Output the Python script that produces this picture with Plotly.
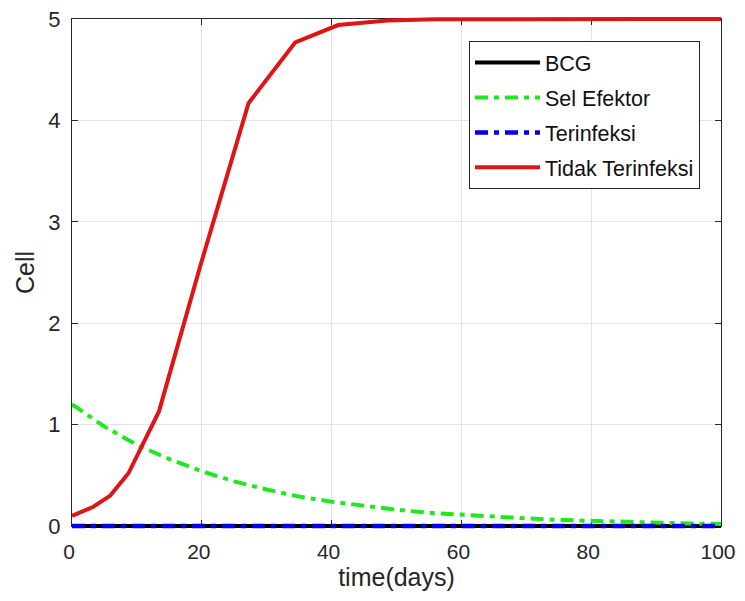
import plotly.graph_objects as go

# Data
t_red = [0, 3.3, 5.9, 8.7, 13.4, 19.7, 27.2, 34.4, 41.0, 48.6, 56, 64, 72, 80, 88, 100]
tidak_terinfeksi = [0.1, 0.19, 0.3, 0.52, 1.13, 2.55, 4.17, 4.77, 4.94, 4.985, 4.997, 5.0, 5.0, 5.0, 5.0, 5.0]

t_green = [0, 5, 10, 15, 20, 25, 30, 35, 40, 45, 50, 55, 60, 65, 70, 75, 80, 85, 90, 95, 100]
sel_efektor = [1.2, 0.98, 0.8, 0.66, 0.54, 0.44, 0.36, 0.29, 0.24, 0.2, 0.16, 0.13, 0.11,
               0.09, 0.075, 0.06, 0.05, 0.04, 0.03, 0.025, 0.02]

t_flat = [0, 100]
bcg = [0, 0]
terinfeksi = [0, 0]

x_ticks = [0, 20, 40, 60, 80, 100]
y_ticks = [0, 1, 2, 3, 4, 5]
x_range = [0, 100]
y_range = [0, 5]

FONT = "Liberation Sans, Arial, sans-serif"
AX = "#262626"

# Figure geometry (the page body adds an 8px offset on every side)
W, H = 729, 585
M_L, M_R, M_T, M_B = 64, 16, 6, 62
PAD = 5  # px of extra drawing room above/below the axes box
plot_h = H - M_T - M_B
box_h = plot_h - 2 * PAD
pad_frac = PAD / plot_h
pad_val = PAD * (y_range[1] - y_range[0]) / box_h

fig = go.Figure()
# invisible trace so the main (visible) axes get drawn
fig.add_trace(go.Scatter(x=t_flat, y=bcg, mode="lines", showlegend=False, hoverinfo="skip",
                         line=dict(color="rgba(0,0,0,0)", width=0), xaxis="x", yaxis="y"))
common = dict(mode="lines", xaxis="x2", yaxis="y2")
fig.add_trace(go.Scatter(x=t_flat, y=bcg, name="BCG", legendgroup="a",
                         line=dict(color="black", width=4), **common))
fig.add_trace(go.Scatter(x=t_green, y=sel_efektor, name="Sel Efektor", legendgroup="b",
                         line=dict(color="#1fe81f", width=4, dash="13px,6px,5px,6px"), **common))
fig.add_trace(go.Scatter(x=t_flat, y=terinfeksi, name="Terinfeksi", legendgroup="c",
                         line=dict(color="#0000f0", width=4.5, dash="13px,6px,5px,6px"), **common))
fig.add_trace(go.Scatter(x=t_red, y=tidak_terinfeksi, name="Tidak Terinfeksi", legendgroup="d",
                         line=dict(color="#e01414", width=4), **common))

axis_common = dict(showline=True, linecolor=AX, linewidth=1, mirror="ticks", ticks="inside",
                   ticklen=6, tickcolor=AX, showgrid=True, gridcolor="#e3e3e3", gridwidth=1,
                   zeroline=False, automargin=False, ticklabeloverflow="allow")

hidden = dict(showline=False, showgrid=False, zeroline=False, showticklabels=False,
              ticks="", fixedrange=True)

fig.update_layout(
    width=W, height=H,
    margin=dict(l=M_L, r=M_R, t=M_T, b=M_B),
    plot_bgcolor="rgba(0,0,0,0)", paper_bgcolor="white",
    font=dict(family=FONT, color=AX),
    xaxis=dict(range=x_range, tickvals=x_ticks, domain=[0, 1], anchor="y",
               ticklabelstandoff=7, ticklabelshift=-3,
               tickfont=dict(family=FONT, size=21, color=AX),
               title=dict(text="time(days)", font=dict(family=FONT, size=25, color=AX), standoff=3),
               **axis_common),
    yaxis=dict(range=y_range, tickvals=y_ticks, domain=[pad_frac, 1 - pad_frac], anchor="x",
               ticklabelstandoff=6,
               tickfont=dict(family=FONT, size=22, color=AX),
               title=dict(text="Cell", font=dict(family=FONT, size=25, color=AX), standoff=6),
               **axis_common),
    xaxis2=dict(range=x_range, domain=[0, 1], anchor="y2", **hidden),
    yaxis2=dict(range=[y_range[0] - pad_val, y_range[1] + pad_val], domain=[0, 1], anchor="x2", **hidden),
    legend=dict(x=(692 - M_L) / (W - M_L - M_R), xanchor="right",
                y=1 - (33 - M_T) / plot_h, yanchor="top",
                bgcolor="white", bordercolor=AX, borderwidth=1,
                font=dict(family=FONT, size=21.5, color="#111111"),
                traceorder="grouped", tracegroupgap=4, itemwidth=65),
    showlegend=True,
)

fig.write_html("out.html")
